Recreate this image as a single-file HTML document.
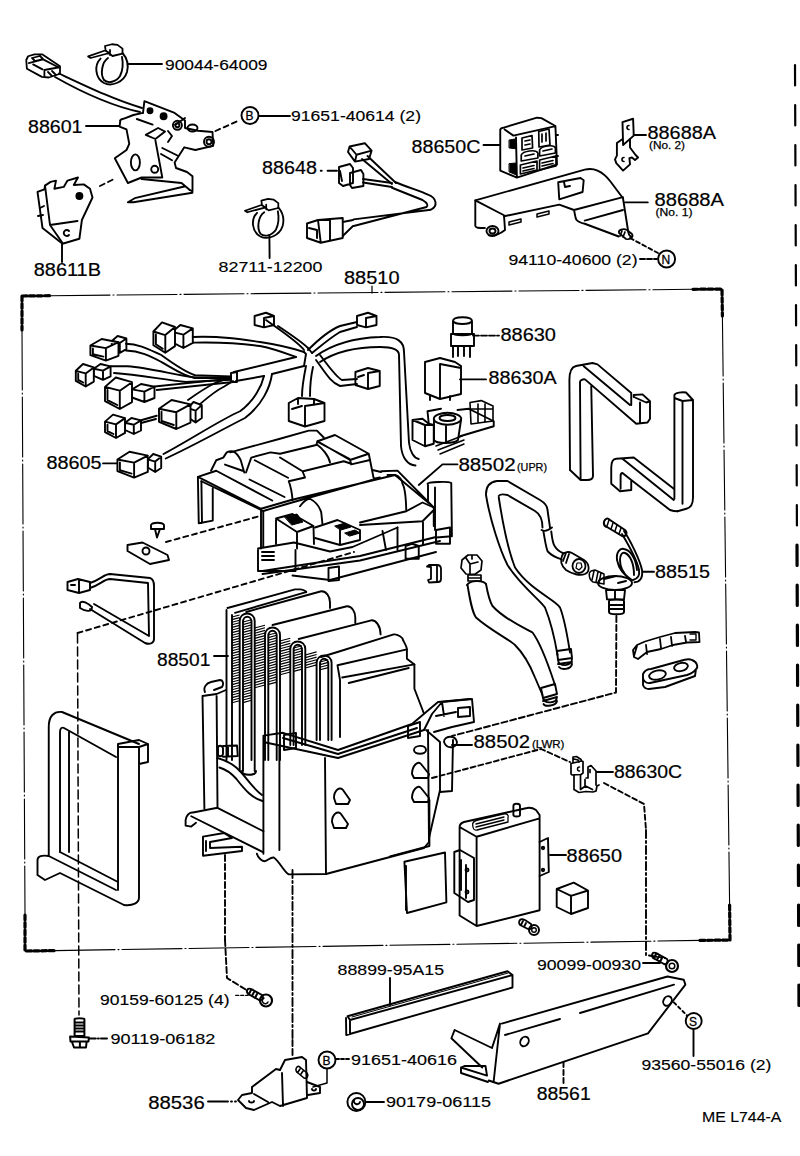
<!DOCTYPE html>
<html><head><meta charset="utf-8"><style>
html,body{margin:0;padding:0;background:#fff;width:800px;height:1156px;overflow:hidden}
svg{display:block}
text{font-family:"Liberation Sans",sans-serif;fill:#000;stroke:#000}
.b{font-size:17.5px;stroke-width:0.2px}
.n{font-size:15.5px;stroke-width:0.15px}
.s{font-size:10.5px;stroke-width:0.25px}
.l{fill:none;stroke:#000;stroke-width:1.9;stroke-linecap:round;stroke-linejoin:round}
</style></head><body>
<svg width="800" height="1156" viewBox="0 0 800 1156">
<text class="b" x="28" y="132.5" textLength="54.5" lengthAdjust="spacingAndGlyphs">88601</text>
<text class="b" x="411.5" y="152.5" textLength="69" lengthAdjust="spacingAndGlyphs">88650C</text>
<text class="b" x="647.5" y="139" textLength="68.5" lengthAdjust="spacingAndGlyphs">88688A</text>
<text class="b" x="262" y="174.3" textLength="55" lengthAdjust="spacingAndGlyphs">88648</text>
<text class="b" x="654.5" y="206" textLength="69.5" lengthAdjust="spacingAndGlyphs">88688A</text>
<text class="b" x="33.75" y="276" textLength="67.25" lengthAdjust="spacingAndGlyphs">88611B</text>
<text class="b" x="344" y="283.5" textLength="55.5" lengthAdjust="spacingAndGlyphs">88510</text>
<text class="b" x="500.4" y="341" textLength="55.6" lengthAdjust="spacingAndGlyphs">88630</text>
<text class="b" x="488.6" y="384" textLength="68" lengthAdjust="spacingAndGlyphs">88630A</text>
<text class="b" x="46.4" y="469" textLength="55.2" lengthAdjust="spacingAndGlyphs">88605</text>
<text class="b" x="458.4" y="471.4" textLength="57.2" lengthAdjust="spacingAndGlyphs">88502</text>
<text class="b" x="655" y="578" textLength="55" lengthAdjust="spacingAndGlyphs">88515</text>
<text class="b" x="157" y="665.6" textLength="53.4" lengthAdjust="spacingAndGlyphs">88501</text>
<text class="b" x="473.6" y="748" textLength="56.4" lengthAdjust="spacingAndGlyphs">88502</text>
<text class="b" x="614" y="778.4" textLength="68" lengthAdjust="spacingAndGlyphs">88630C</text>
<text class="b" x="566.6" y="861.5" textLength="55.4" lengthAdjust="spacingAndGlyphs">88650</text>
<text class="b" x="148.2" y="1109.2" textLength="56.5" lengthAdjust="spacingAndGlyphs">88536</text>
<text class="b" x="536.7" y="1099.6" textLength="54" lengthAdjust="spacingAndGlyphs">88561</text>
<text class="n" x="165" y="70" textLength="102.5" lengthAdjust="spacingAndGlyphs">90044-64009</text>
<text class="n" x="291" y="120.5" textLength="130" lengthAdjust="spacingAndGlyphs">91651-40614 (2)</text>
<text class="n" x="218.6" y="271.5" textLength="103.8" lengthAdjust="spacingAndGlyphs">82711-12200</text>
<text class="n" x="508.5" y="265" textLength="129" lengthAdjust="spacingAndGlyphs">94110-40600 (2)</text>
<text class="n" x="337.6" y="975" textLength="106.4" lengthAdjust="spacingAndGlyphs">88899-95A15</text>
<text class="n" x="537" y="970" textLength="104" lengthAdjust="spacingAndGlyphs">90099-00930</text>
<text class="n" x="100" y="1004.5" textLength="129.5" lengthAdjust="spacingAndGlyphs">90159-60125 (4)</text>
<text class="n" x="110.4" y="1044.4" textLength="105" lengthAdjust="spacingAndGlyphs">90119-06182</text>
<text class="n" x="351" y="1065" textLength="106" lengthAdjust="spacingAndGlyphs">91651-40616</text>
<text class="n" x="386" y="1107" textLength="105" lengthAdjust="spacingAndGlyphs">90179-06115</text>
<text class="n" x="641.4" y="1069.9" textLength="130" lengthAdjust="spacingAndGlyphs">93560-55016 (2)</text>
<text class="n" x="702" y="1122" textLength="79.4" lengthAdjust="spacingAndGlyphs">ME L744-A</text>
<text class="s" x="649" y="148.5" textLength="36" lengthAdjust="spacingAndGlyphs">(No. 2)</text>
<text class="s" x="655.5" y="215.5" textLength="37" lengthAdjust="spacingAndGlyphs">(No. 1)</text>
<text class="s" x="517" y="471.4" textLength="30" lengthAdjust="spacingAndGlyphs">(UPR)</text>
<text class="s" x="532" y="747.6" textLength="32.4" lengthAdjust="spacingAndGlyphs">(LWR)</text>
<g class="l" stroke-linecap="butt">
<path d="M50,295.7 L693,289.3 M22,330 L25,915 M55,950.6 L700,940.4 M722.4,316 L729.6,905" stroke-width="1.1" stroke-dasharray="60,3,1,3"/>
<path d="M22,296 L50,295.7 M22,296 L22,330 M25,915 L25,951 L55,950.6 M700,940.4 L730,940 L729.6,905 M693,289.3 L722,289 L722.4,316" stroke-width="3.2" stroke-dasharray="5,2.5"/>
<path d="M795,65 L797,545" stroke-width="2.2" stroke-dasharray="20.5,19.5"/>
<path d="M797,545 L799,1006" stroke-width="3.2" stroke-dasharray="20.5,19.5"/>
<path d="M372,286 L372,293" stroke-width="1.2"/>
</g>
<g class="l">
<!-- connector 88601 wire -->
<path d="M26.25,60 L28.1,56.25 L34.4,54.4 L42.5,54.4 L60,66.25 L60,73.75 L48.75,77.5 L41.9,76.9 L26.9,68.75 Z M28.75,63.1 L43.1,59.4 L58.75,67.5 M33.1,64.4 L42.5,69.4 M44.4,70 L44.4,76 M44.4,70 L58,67.5 M48,72 l4,4 M52,71 l4,4 M32,58 l8,-2 l3,3 l-8,2 Z" stroke-width="1.8"/>
<path d="M59,73.5 C90,88 115,100 142,108 M55,77 C85,94 112,106 140,112"/>
<!-- clamp 90044 -->
<path d="M100.6,58.6 C94,65 95,78 104,83 C112,87 124,82 127,72 C129,64 126,57 122.5,53"/>
<path d="M108,58 C102,62 100,74 104,80 C108,84 116,82 120,76 C123,70 123,62 122,57"/>
<path d="M88.1,56.4 L105,50.5 L109.4,53 L90.6,58 Z M105,46 L111.9,44.25 L117.5,44.9 L122.5,48.6 L122.5,53.6 L112.5,56 L105.6,50.5 Z M110,50 l0,5" stroke-width="1.8"/>
<path d="M128.5,64 L162,64"/>
<!-- 88601 bracket -->
<path d="M120.3,120.4 C121,119 122,119 124,118.6 L133.4,115 L143,112.9"/>
<path d="M120.3,120.4 L119.6,126.6 L126.5,129.4 L129.25,143.8 L126.5,150 L114.8,158.25 L127.9,183 L141.6,177.5 L162.3,177.5 L155.4,140.4"/>
<path d="M144.4,101.2 L143,112.9 M144.4,101.2 L174.6,112.9 L185,120.4 L185,128 L198,130.75 L212.5,132 L213.2,145.9 L195.3,150 L184.3,147.3 L174.6,162.4 L176,168 L187,172 L192.5,176.2 L192.5,191.3 L189.8,190"/>
<path d="M127.9,202.3 L134.75,198.2 L184.3,186.5 M133.4,202.3 L192.5,192.7 M127.9,202.3 L133.4,202.3 M141.6,179 L181.5,183 L189.8,190"/>
<path d="M145.75,134.9 L158.1,128 L165,131.5 L155.4,139 Z"/>
<ellipse cx="135.4" cy="162.4" rx="4.5" ry="8"/>
<circle cx="154.7" cy="169.3" r="3.5"/>
<circle cx="150" cy="110.8" r="2.5" fill="#000"/><circle cx="163.6" cy="116.3" r="3" fill="#000"/>
<path d="M136.8,119 L152.6,124.6 M162.3,148 L177.4,155.5 M161,154 L172,160.3 M175,125 L185,118"/>
<circle cx="177.4" cy="125.3" r="4.5"/><circle cx="177.4" cy="125.3" r="2"/>
<ellipse cx="192.5" cy="128" rx="5" ry="3.5"/>
<circle cx="209" cy="141.8" r="5"/><circle cx="209" cy="141.8" r="2.5"/>
<path d="M168,131 L172,136 L168,142"/>
<path d="M86,126 L119,126"/>
<path d="M215.5,131 L240,120" stroke-dasharray="5,4"/>
<path d="M100,186 L116,178" stroke-dasharray="5,4"/>
<!-- 88611B -->
<path d="M37.5,191.9 L44.4,189.4 L45,185.6 L50.6,181.9 L56,180.6 L54.4,188.75 L63.75,186.9 L67.5,180.6 L78,177.5 L73.75,185 L83.75,184.4 L90,188.75 L92.5,197.5 L81.9,220 L79.4,238.75 L62.5,243.75 L42.5,228 Z"/>
<path d="M45,185.6 L50,225 L77.5,221 M50,225 L62.5,243"/>
<path d="M40,208 l4,-2 M38,216 l5,-1"/>
<circle cx="79.4" cy="196" r="3" fill="#000"/>
<path d="M69,231 a3,3 0 1 0 0,4"/>
<path d="M62,244 L62,262"/>
<!-- B circle -->
<circle cx="250" cy="115.5" r="8.5"/>
<path d="M259,116 L290,116"/>
</g>
<text x="245.5" y="120" style="font-family:'Liberation Sans';font-size:12px;stroke-width:0.3px">B</text>
<g class="l">
<!-- 88648 harness -->
<path d="M349.6,146.5 L364.8,143.2 L371.6,150.6 L356.5,154.75 Z M349.6,146.5 L348,152 L355,161.6 L369,159 L371.6,150.6 M356.5,154.75 L355,161.6"/>
<path d="M367.5,156 L396,183 M362,159 L392,184"/>
<path d="M339,167 L350,164 L353,168 L353,183 L343,186 L339,183 Z M350,173 L361,170 L363.4,174 L363.4,186 L352,188 L350,185 Z M340,171 l2,10"/>
<path d="M363,179 L392,183 M363,182.5 L392,187"/>
<path d="M395,182 C410,188 420,191 428,194.6 C437,198 438,206 430.8,209.75 L353.75,219.4 M392,187.75 C405,193 415,197 422.5,200 C428,203 428,206 426.6,207 L353.75,226"/>
<path d="M307,223.5 L318,220 L342.75,218 L342.75,238 L320.75,242.75 L307,238 Z M318,220 L320.75,242.75 M330,219 l0,21 M309,228 l8,2 l0,8"/>
<path d="M342.75,222 L353,220 M342.75,236 L353,226"/>
<path d="M320.75,170.7 l1,0 M327.6,170.7 L337,170.7"/>
<!-- clamp 82711 -->
<g transform="translate(159.5,156) scale(0.97)">
<path d="M100.6,58.6 C94,65 95,78 104,83 C112,87 124,82 127,72 C129,64 126,57 122.5,53"/>
<path d="M108,58 C102,62 100,74 104,80 C108,84 116,82 120,76 C123,70 123,62 122,57"/>
<path d="M88.1,56.4 L105,50.5 L109.4,53 L90.6,58 Z M105,46 L111.9,44.25 L117.5,44.9 L122.5,48.6 L122.5,53.6 L112.5,56 L105.6,50.5 Z M110,50 l0,5" stroke-width="1.8"/>
</g>
<path d="M269.4,235 L269.6,258"/>
<!-- 88650C -->
<path d="M500.25,130 C500.25,129 501,128.2 503,127.8 L537,117.7 L541.4,118.1 L555.4,126 L557,164.5 L516.9,177.6 L500.25,170.6 Z M504.6,129.5 L513.4,135.6 L554.5,126.4 M516,137.4 L516.9,177.6"/>
<path d="M522,138 L532,135.5 L532.6,148 L522,150 Z M525,141 l5,-1 M525,145 l5,-1" stroke-width="1.7"/>
<path d="M538.75,131.5 L549,129 L550,145 L539,147 Z M542,134 l0,8 M546,133 l0,8" stroke-width="1.7"/>
<path d="M521.25,155 C523,151 536,149 537.9,153 L537.9,158 L521.25,161 Z M525,156 l9,-2" stroke-width="1.7"/>
<path d="M539.6,150 C541,146 554,144 555.4,148 L555.4,153 L539.6,156 Z M543,151 l9,-2" stroke-width="1.7"/>
<path d="M520.4,165 L537,161 L537,170 L520.4,174 Z M523,168 l11,-2.5 M523,171 l11,-2.5" stroke-width="1.7"/>
<path d="M539.6,160 L556,156 L556,166 L539.6,170 Z M542,163 l11,-2.5 M542,166 l11,-2.5" stroke-width="1.7"/>
<path d="M509.4,140 L515,139 L516,148.75 L509.4,148 Z M509.4,163.6 L516,163 L516.4,175 L509.4,172 Z" fill="#000" stroke-width="1"/>
<path d="M556,135 l2,0 M556,156 l2,0"/>
<path d="M483.5,145 L499.25,145"/>
<!-- 88688A No2 -->
<path d="M622.5,122.2 L633.1,118.75 L633.75,135.6 L623.1,145 Z"/>
<path d="M621.9,139.4 L616.9,143.1 L616.9,155.6 L615,159.4 L616.25,163.1 L623.1,170.6 L630,164.4 L629.4,158.1 L631.9,157.5 L635,160 L638.1,157.5 L635.6,155 L630,147.5 L630,139.4"/>
<path d="M629,125.5 a2,2 0 1 0 0,4 M624,157.5 a2,2 0 1 0 0,4" stroke-width="1.6"/>
<path d="M633.75,135 L646,135"/>
<!-- 88688A No1 -->
<path d="M475.3,200.4 L584.75,169.6 C590,168.5 594,169 597.5,170.6 C603,173 607,177 610.25,181.25 L623,198.25 L628.3,232.25 C629,235 630,236.5 631.5,236.5"/>
<path d="M475.3,200.4 L475.3,226 C476,228 478,228 484.9,228 M475.3,200.4 L504,215.25 L505,230 C500,234 494,236 489,235.4"/>
<path d="M504,216.3 L559.25,204.6 L574,210 L623,197.2 M574,210 C575,214 575,217 576.25,219.5 C578,222 581,223 584.75,223.75 L618.75,236.5 M584.75,220.6 L623,210"/>
<path d="M558.2,182.3 L580.5,178 L583.7,180.2 L582.6,192 L559.25,199.3 Z M564,182 l1,5 l5,-1"/>
<path d="M509,222 l12,-3 l0,3 l-12,3 Z M537,214 l12,-3 l0,3 l-12,3 Z" stroke-width="1.5"/>
<ellipse cx="492.5" cy="231" rx="6" ry="5"/><ellipse cx="492.5" cy="231" rx="3" ry="2.5"/>
<path d="M619,233 C618,230 623,228 627,230 L632,234 C634,237 630,240 626,239 Z M622,231 l-2,5 M625,232 l-2,5" stroke-width="1.7"/>
<path d="M625,202.4 L647.75,202.4"/>
<path d="M630,238 L658,253" stroke-dasharray="4,3"/>
<path d="M640,259 L657,259" stroke-dasharray="5,2"/>
<circle cx="666.6" cy="259" r="8.5"/>
<circle cx="693.7" cy="1021" r="8"/>
<circle cx="327" cy="1060" r="8.5"/>
</g>
<text x="661.5" y="263.5" style="font-family:'Liberation Sans';font-size:12px;stroke-width:0.3px">N</text>
<text x="689" y="1025.5" style="font-family:'Liberation Sans';font-size:12px;stroke-width:0.3px">S</text>
<text x="322.5" y="1064.5" style="font-family:'Liberation Sans';font-size:12px;stroke-width:0.3px">B</text>
<g class="l">
<!-- 88605 harness connectors -->
<path d="M111.8,341.0 L117.6,336.0 L126.4,338.5 L126.4,349.1 L119.8,352.8 L111.8,348.6 Z M111.8,341.0 L119.8,343.0 L126.4,338.5 M119.8,343.0 L119.8,352.8"/>
<path fill="#fff" d="M90.4,345.5 L101.6,339.0 L118.5,342.2 L118.5,355.8 L105.9,360.6 L90.4,355.2 Z M90.4,345.5 L105.9,348.1 L118.5,342.2 M105.9,348.1 L105.9,360.6 M92.9,348.5 L92.9,354.2 L103.4,356.6"/>
<path d="M172.0,331.9 L180.3,325.0 L192.8,328.4 L192.8,342.9 L183.4,348.0 L172.0,342.2 Z M172.0,331.9 L183.4,334.7 L192.8,328.4 M183.4,334.7 L183.4,348.0"/>
<path fill="#fff" d="M153.4,331.5 L162.0,322.4 L175.0,327.0 L175.0,346.1 L165.3,352.8 L153.4,345.2 Z M153.4,331.5 L165.3,335.1 L175.0,327.0 M165.3,335.1 L165.3,352.8 M155.9,334.5 L155.9,344.2 L162.8,348.8"/>
<path d="M93.8,368.7 L100.5,364.0 L110.6,366.4 L110.6,376.3 L103.0,379.8 L93.8,375.8 Z M93.8,368.7 L103.0,370.6 L110.6,366.4 M103.0,370.6 L103.0,379.8"/>
<path fill="#fff" d="M75.8,370.8 L83.0,364.0 L93.8,367.4 L93.8,381.6 L85.7,386.5 L75.8,380.9 Z M75.8,370.8 L85.7,373.4 L93.8,367.4 M85.7,373.4 L85.7,386.5 M78.2,373.8 L78.2,379.9 L83.2,382.5"/>
<path d="M132.0,389.4 L141.0,384.0 L154.5,386.7 L154.5,398.0 L144.4,402.0 L132.0,397.5 Z M132.0,389.4 L144.4,391.6 L154.5,386.7 M144.4,391.6 L144.4,402.0"/>
<path fill="#fff" d="M105.0,386.9 L115.8,377.5 L132.0,382.2 L132.0,402.1 L119.8,409.0 L105.0,401.1 Z M105.0,386.9 L119.8,390.7 L132.0,382.2 M119.8,390.7 L119.8,409.0 M107.5,389.9 L107.5,400.1 L117.3,405.0"/>
<path d="M125.0,422.8 L131.4,418.0 L141.0,420.4 L141.0,430.5 L133.8,434.0 L125.0,430.0 Z M125.0,422.8 L133.8,424.7 L141.0,420.4 M133.8,424.7 L133.8,434.0"/>
<path fill="#fff" d="M105.0,421.6 L113.0,414.6 L125.0,418.1 L125.0,432.9 L116.0,438.0 L105.0,432.1 Z M105.0,421.6 L116.0,424.4 L125.0,418.1 M116.0,424.4 L116.0,438.0 M107.5,424.6 L107.5,431.1 L113.5,434.0"/>
<path d="M188.0,408.1 L193.5,402.0 L201.8,405.1 L201.8,418.0 L195.6,422.5 L188.0,417.4 Z M188.0,408.1 L195.6,410.6 L201.8,405.1 M195.6,410.6 L195.6,422.5"/>
<path fill="#fff" d="M159.0,408.7 L171.6,400.0 L190.5,404.4 L190.5,422.6 L176.3,429.0 L159.0,421.8 Z M159.0,408.7 L176.3,412.2 L190.5,404.4 M176.3,412.2 L176.3,429.0 M161.5,411.7 L161.5,420.8 L173.8,425.0"/>
<path d="M147.8,459.4 L153.2,454.0 L161.2,456.7 L161.2,468.0 L155.2,472.0 L147.8,467.5 Z M147.8,459.4 L155.2,461.6 L161.2,456.7 M155.2,461.6 L155.2,472.0"/>
<path fill="#fff" d="M117.4,459.5 L129.5,451.8 L147.8,455.6 L147.8,471.9 L134.1,477.6 L117.4,471.1 Z M117.4,459.5 L134.1,462.6 L147.8,455.6 M134.1,462.6 L134.1,477.6 M119.9,462.5 L119.9,470.1 L131.6,473.6"/>
<!-- wires -->
<path d="M126,343.75 C140,344 150,350 161.25,355 C175,365 185,372 195,375.25 L231,376.4 M126,350.5 C140,351 150,356 161,361.75 C175,370 185,376 195,378 L231,378"/>
<path d="M192.75,337 C220,336 240,339 260,342 C280,345 295,349 304,352 M192.75,342.6 C220,342 240,343 260,346 C275,349 285,353 296,357"/>
<path d="M110.6,366.25 L127.5,366.25 C150,368 175,375 195,377.5 L231,377.5 M114,373 C140,375 165,380 186,382 L231,379.75"/>
<path d="M154.5,386.5 L231,378.6 M156.75,390 L233.25,382"/>
<path d="M188,400 C195,395 205,388 215,383 L231,377 M199.5,404.5 C207,398 215,391 224.25,386.5 L233,381"/>
<path d="M141,420.25 L156.75,415.75 M141,423 L156,419"/>
<path d="M163.5,454 C190,440 220,420 240,411.25 C255,400 262,385 264,376 M165.75,458.5 C195,445 225,428 245,418 C262,405 270,388 272,374"/>
<path d="M231,373 L237,372 L237,382 L231,382 Z"/>
<path d="M234,372 L296,357 M236,381 L264,376 M272,374 L304,366"/>
<!-- junction and branches -->
<path d="M266,320 C280,330 298,342 304,350 M278,326 C290,334 302,342 308,348"/>
<path d="M308,350 C318,340 330,330 340,326 L357,322 M312,353 C322,345 330,338 340,332 L357,327"/>
<path d="M304,352 L306,354 L304,366 M308,348 L312,353"/>
<path d="M306,366 C304,376 302,386 302,396 M313,367 C311,376 310,386 310,396"/>
<path d="M316,360 C325,372 330,382 340,386 L357,384 M320,355 C330,368 336,377 342,380 L357,379"/>
<path d="M254.6,316 L266,312.75 L274,316 L274,325 L264,327.4 L254.6,325 Z M264,318 L264,327.4 M264,318 L274,316"/>
<path d="M357,316 L368,312.75 L376.5,316 L376.5,325 L366,327.4 L357,325 Z M366,318 L366,327.4 M366,318 L376.5,316"/>
<path d="M316,356 C330,346 350,338 380,337 C398,336 404,342 404,351.75 L409,442.75 C410,452 414,458 418.75,459 M320,362 C335,352 355,347 380,347 C394,347 399,350 399,355 L401,446 C402,458 408,465 415.5,465.5"/>
<path d="M288.75,403 L298,398 L314,399 L324.5,403 L324.5,421 L305,426.5 L288.75,421 Z M305,406 L305,426.5 M305,406 L324.5,403 M292,409 l10,-3 M298,398 l0,6 M314,399 l0,6"/>
<path d="M355.4,372 L368,368 L379.75,371 L379.75,386 L368,389 L355.4,385 Z M368,373 L368,389 M368,373 L379.75,371 M358,377 l6,-2"/>
<!-- amplifier/resistor area -->
<path d="M427.5,411.25 L441,408.75 M457.5,410 L468.75,408.75 L493.75,421.25 L493.75,426.25 L460,436.25 M427.5,411.25 L428.75,423.75"/>
<path d="M412.5,420 L422.5,418.75 L428.75,423.75 L433.75,425 L433.75,443.75 L425,446.25 L412.5,440 Z M412.5,420 L425,425 L433.75,425 M425,425 L425,446.25"/>
<ellipse cx="447.5" cy="418.75" rx="13.75" ry="6"/>
<ellipse cx="447.5" cy="418" rx="8" ry="3"/>
<path d="M434,420 L434,440 C436,444 454,444 458,440 L461,420 M446,426 L446,443"/>
<path d="M470,402.5 L481.25,400.6 L493,406 L493,421 L471,424 Z M478,404 L478,423 M485,404 L485,422 M470,409 L493,409" stroke-width="1.6"/>
<path d="M436,446 L462,436 M438,450 L464,440 M440,454 L464,444" stroke-width="1.5"/>
<!-- relay 88630A -->
<path d="M425,362 L440,358 L455,362 L461,366 L461,394 L440,399 L425,393 Z M440,364 L440,399 M440,364 L461,368 M430,396 l0,4 M450,396 l0,4"/>
<!-- switch 88630 -->
<path d="M453,321 C453,316 472,316 472,321 L472,333 C472,336 453,336 453,333 Z M453,321 C455,325 470,325 472,321"/>
<path d="M451,334 L474,334 L474,346 L451,346 Z M453,346 L453,357 M470,346 L470,357 M458,346 l0,10 M464,346 l0,10"/>
<path d="M473,335.6 L499,335.6" stroke-dasharray="6,2"/>
<path d="M460,379.4 L486,379.4"/>
<path d="M103,463.4 L117,463.4"/>
</g>
<g class="l">
<!-- upper case 88502 -->
<path d="M197.9,476.9 L198.75,523.25 L212.75,520.6 L212.75,488.25 M201.4,481.25 L202,523"/>
<path d="M197.9,476.9 L261,508.75 M201.4,481.25 L263.25,511 M197.9,476.9 L216.25,470.75 L272.25,500.5"/>
<path d="M211,470.75 L216.25,460.25 L223.25,457.6 L226.75,452.4 C232,450 236,451 240.75,460.25 L244.25,472.5 M225,464.6 L242.5,470.75"/>
<path d="M230.25,452.4 L280,438.75 L308.75,430.6 L316.9,430.6 L323.75,437.5"/>
<path d="M246,472.5 L251.25,457.6 L270.5,452.4 L280,453.75 L316.25,445 L317.5,441.25 M254.75,460.25 L288,477.75 M249.5,479.5 L284.5,497 M280,457.5 L302.5,471.25 L305,477.5 L288.75,481.25 C291,487 292,493 292.5,500"/>
<path d="M317.5,445 C322,448 328.75,456 330,462.5"/>
<path d="M317.5,441.25 L335,435 L368.75,453.75 L350,460 Z M318.75,442.5 L349.4,458.75 M350,460 L351.25,464.4 L370,460 L368.75,453.75"/>
<path d="M303.1,471.25 L343.75,461.25 L351.25,463.75 M370,460 L373.75,478.75 L380,477.5 M372.5,470 L381,472"/>
<path d="M381.25,471.25 L397.5,470.6 L433.75,507.5 M387.5,475 L395,475 L430,504"/>
<path d="M261,508.75 L291.25,500 L395,475 C399,476 402.5,480 402.5,483.75 C405,488 406,500 406.25,510 M263.25,511 L293.75,502 L372,480"/>
<path d="M300,506.25 C303,502 306,499 310,498.75 C316,502 320,508 321.25,512.5 L322.5,524.5"/>
<path d="M360,522.5 L406.25,511.25 L422.5,502.5 L433.75,507.5 L433.75,526 M360,525 L422.5,521.25 L433.75,510"/>
<path d="M261,508.75 L261,548.5 M263.25,511 L263.25,547"/>
<path d="M276,518.5 L292.5,514 L313.5,526 L297,532 Z M276,520 L276,544 M297,532 L297,548.5 M313.5,527.5 L314,544"/>
<path d="M285,517 L297,514 L303,522 L292,525 Z" fill="#000" stroke-width="1"/>
<path d="M315,527.5 L337.5,520 L360,530 L360,540 L340,545 L315,538 M340,530 l0,15"/>
<path d="M335,526 l10,-3 l6,4 l-10,3 Z M345,533 l10,-3 l5,3 l-10,3 Z" fill="#000" stroke-width="1"/>
<path d="M258,548.5 L294,542.5 L330,551.5 L352.5,547 L397.5,527.5 M258,550 L258,571 L295.5,571 L295.5,550 M262,552 l12,0 M262,556 l12,0 M262,560 l12,0"/>
<path d="M262.5,571 L360,556 L436,537 M262.5,574 L360,560.5 L440,541 M292.5,575.5 L330,580 L436,552"/>
<path d="M328.5,568 L339,566.5 L339,580 L328.5,581 Z M397.5,527.5 L397.5,550 M423,522.5 L423,545 M382.5,531 L386,550"/>
<path d="M427.5,483.75 C428,482 448,481 451.25,483 L451.9,536.25 L436.25,537.5 M428,485 L428,502.5 M435,487.5 L435,530"/>
<path d="M436,530 L450,527.5 L450,543.75 L436,543.75 Z M405.6,546 L412,543.75 L418.75,546 L418.75,558.75 L405.6,558.75 Z"/>
<path d="M418.75,485 L442.5,464.4 L457.5,464.4"/>
<path d="M427,566.5 L429,565 L437,565 C440,565 441,567 441,569 L441,579 C441,581 440,582 438,582 L429,582.5 L428,580 L431,579 L431,567 Z M437,566 L437,581" stroke-width="1.8"/>



<!-- small parts left -->
<path d="M151,525 C152,522 163,522 164,525 L164,529 L151,529 Z M155,529 L157,537.5 L160,529"/>
<path d="M127.5,545 L142.5,542.5 L167.5,555 L169,560 L150,564 L127.5,551 Z"/>
<circle cx="146" cy="551" r="3.5"/>
<path d="M166,542 L260,516" stroke-dasharray="5,4"/>
<path d="M67.5,582 L78,579 L90,582 L90,590 L79,593 L67.5,590 Z M79,581 L79,593 M71,585 l4,0"/>
<path d="M90,583 C100,580 104,574 110,574 L150,578 C153,579 154,582 154,586 L154,639 C154,643 150,645 145,643 L90,609 M90,588 C100,585 104,579 110,579 L148,583 L149,636 L94,604"/>
<path d="M80,603 C82,600 88,603 92,607 C92,612 86,612 80,608 Z"/>
<path d="M77.5,633 L354,552" stroke-dasharray="5,4"/>
<path d="M77.5,634 L79,1015" stroke-width="1.5" stroke-dasharray="9,4"/>
</g>
<g class="l">
<!-- evaporator core -->
<path d="M226.5,610 L226.5,760 M227.5,608 L295,589.4 L300.6,589.4 C305,590 307,592 306,592.2 M235,612.8 L306,592.2 M232,615 L232,760"/>
<!-- hatching region -->
<path stroke-width="1.1" stroke-linecap="butt" d="M232.0,617.0 L239.5,615.0 M232.0,619.6 L239.5,617.6 M232.0,622.2 L239.5,620.2 M232.0,624.8 L239.5,622.8 M232.0,627.4 L239.5,625.4 M232.0,630.0 L239.5,628.0 M232.0,632.6 L239.5,630.6 M232.0,635.2 L239.5,633.2 M232.0,637.8 L239.5,635.8 M232.0,640.4 L239.5,638.4 M232.0,643.0 L239.5,641.0 M232.0,645.6 L239.5,643.6 M232.0,648.2 L239.5,646.2 M232.0,650.8 L239.5,648.8 M232.0,653.4 L239.5,651.4 M232.0,656.0 L239.5,654.0 M232.0,658.6 L239.5,656.6 M232.0,661.2 L239.5,659.2 M232.0,663.8 L239.5,661.8 M232.0,666.4 L239.5,664.4 M232.0,669.0 L239.5,667.0 M232.0,671.6 L239.5,669.6 M232.0,674.2 L239.5,672.2 M232.0,676.8 L239.5,674.8 M232.0,679.4 L239.5,677.4 M232.0,682.0 L239.5,680.0 M232.0,684.6 L239.5,682.6 M232.0,687.2 L239.5,685.2 M232.0,689.8 L239.5,687.8 M232.0,692.4 L239.5,690.4 M232.0,695.0 L239.5,693.0 M232.0,697.6 L239.5,695.6 M232.0,700.2 L239.5,698.2 M232.0,702.8 L239.5,700.8 M243.0,622.0 L251.5,619.7 M243.0,624.6 L251.5,622.3 M243.0,627.2 L251.5,624.9 M243.0,629.8 L251.5,627.5 M243.0,632.4 L251.5,630.1 M243.0,635.0 L251.5,632.7 M243.0,637.6 L251.5,635.3 M243.0,640.2 L251.5,637.9 M243.0,642.8 L251.5,640.5 M243.0,645.4 L251.5,643.1 M243.0,648.0 L251.5,645.7 M243.0,650.6 L251.5,648.3 M243.0,653.2 L251.5,650.9 M243.0,655.8 L251.5,653.5 M243.0,658.4 L251.5,656.1 M243.0,661.0 L251.5,658.7 M243.0,663.6 L251.5,661.3 M243.0,666.2 L251.5,663.9 M243.0,668.8 L251.5,666.5 M243.0,671.4 L251.5,669.1 M243.0,674.0 L251.5,671.7 M243.0,676.6 L251.5,674.3 M243.0,679.2 L251.5,676.9 M243.0,681.8 L251.5,679.5 M243.0,684.4 L251.5,682.1 M243.0,687.0 L251.5,684.7 M243.0,689.6 L251.5,687.3 M243.0,692.2 L251.5,689.9 M243.0,694.8 L251.5,692.5 M243.0,697.4 L251.5,695.1 M243.0,700.0 L251.5,697.7 M243.0,702.6 L251.5,700.3 M254.7,628.0 L265.0,625.2 M254.7,630.6 L265.0,627.8 M254.7,633.2 L265.0,630.4 M254.7,635.8 L265.0,633.0 M254.7,638.4 L265.0,635.6 M254.7,641.0 L265.0,638.2 M254.7,643.6 L265.0,640.8 M254.7,646.2 L265.0,643.4 M254.7,648.8 L265.0,646.0 M254.7,651.4 L265.0,648.6 M254.7,654.0 L265.0,651.2 M254.7,656.6 L265.0,653.8 M254.7,659.2 L265.0,656.4 M254.7,661.8 L265.0,659.0 M254.7,664.4 L265.0,661.6 M254.7,667.0 L265.0,664.2 M254.7,669.6 L265.0,666.8 M254.7,672.2 L265.0,669.4 M254.7,674.8 L265.0,672.0 M254.7,677.4 L265.0,674.6 M254.7,680.0 L265.0,677.2 M254.7,682.6 L265.0,679.8 M254.7,685.2 L265.0,682.4 M254.7,687.8 L265.0,685.0 M268.3,635.0 L276.7,632.7 M268.3,637.6 L276.7,635.3 M268.3,640.2 L276.7,637.9 M268.3,642.8 L276.7,640.5 M268.3,645.4 L276.7,643.1 M268.3,648.0 L276.7,645.7 M268.3,650.6 L276.7,648.3 M268.3,653.2 L276.7,650.9 M268.3,655.8 L276.7,653.5 M268.3,658.4 L276.7,656.1 M268.3,661.0 L276.7,658.7 M268.3,663.6 L276.7,661.3 M268.3,666.2 L276.7,663.9 M268.3,668.8 L276.7,666.5 M268.3,671.4 L276.7,669.1 M268.3,674.0 L276.7,671.7 M268.3,676.6 L276.7,674.3 M268.3,679.2 L276.7,676.9 M268.3,681.8 L276.7,679.5 M268.3,684.4 L276.7,682.1 M280.0,641.0 L290.3,638.2 M280.0,643.6 L290.3,640.8 M280.0,646.2 L290.3,643.4 M280.0,648.8 L290.3,646.0 M280.0,651.4 L290.3,648.6 M280.0,654.0 L290.3,651.2 M280.0,656.6 L290.3,653.8 M280.0,659.2 L290.3,656.4 M280.0,661.8 L290.3,659.0 M280.0,664.4 L290.3,661.6 M280.0,667.0 L290.3,664.2 M280.0,669.6 L290.3,666.8 M280.0,672.2 L290.3,669.4 M280.0,674.8 L290.3,672.0 M293.6,648.0 L302.0,645.7 M293.6,650.6 L302.0,648.3 M293.6,653.2 L302.0,650.9 M293.6,655.8 L302.0,653.5 M293.6,658.4 L302.0,656.1 M293.6,661.0 L302.0,658.7 M293.6,663.6 L302.0,661.3 M293.6,666.2 L302.0,663.9 M293.6,668.8 L302.0,666.5 M293.6,671.4 L302.0,669.1 M305.3,655.0 L316.6,651.9 M305.3,657.6 L316.6,654.5 M305.3,660.2 L316.6,657.1 M305.3,662.8 L316.6,659.7 M305.3,665.4 L316.6,662.3 M305.3,668.0 L316.6,664.9 M320.0,662.0 L328.3,659.8 M320.0,664.6 L328.3,662.4 M320.0,667.2 L328.3,665.0 M320.0,669.8 L328.3,667.6"/>
<!-- tubes U -->
<path d="M239.7,771 L239.7,621 C239.7,611 254.7,611 254.7,621 L254.7,771 M243,771 L243,622 C243,615 251.5,615 251.5,622 L251.5,760"/>
<path d="M265,760 L265,635 C265,625 280,625 280,635 L280,760 M268.3,760 L268.3,636 C268.3,629 276.7,629 276.7,636 L276.7,760"/>
<path d="M290.3,745 L290.3,649 C290.3,639 305.3,639 305.3,649 L305.3,745 M293.6,745 L293.6,650 C293.6,643 302,643 302,650 L302,745"/>
<path d="M316.6,740 L316.6,663 C316.6,653 331.6,653 331.6,663 L331.6,740 M320,740 L320,664 C320,657 328.3,657 328.3,664 L328.3,740"/>
<path d="M242,771 C242,776 256,776 256,771"/>
<!-- fin block tops -->
<path d="M246.25,612 L321.25,591.25 C326,591 330,596 330,602.5 L330,608"/>
<path d="M272.5,625 L346.9,606.25 C352,606 355.3,612 355.3,617.5 L355.3,623"/>
<path d="M298.75,639 L371.25,620.3 C376,620 380.6,626 380.6,634.4"/>
<path d="M321,657 L337.5,652 L393.75,634.4 C398,634 403,638 403,640 C405,644 406.9,647 406.9,649.4 L406.9,658.75 L414.4,664.4 L414.4,688.75 L423.75,713"/>
<path d="M337.5,665.3 L406.9,649.4 M342.2,677.5 L414.4,664.4 M348.75,683 L408.75,668 M337.5,665.3 L340,680 L340,737"/>
<!-- rear shell left -->
<path d="M202.5,696 L204.4,808.75 M216.6,696 L217.5,807 M202.5,696 L216.6,694 L226,690 M205,692 C203,688 206,683 211,682 L220,680 C223,680 224,684 222,687 L214,690"/>
<path d="M217.5,758 C225,760 232,764 236.25,767.5 C245,775 252,788 262,795 M219.4,767.5 C228,770 232,774 236.25,778.75 C245,790 252,798 262.5,801"/>
<path d="M218,748 C218,745 222,745 223,748 L223,754 C222,757 218,757 218,754 Z M223,746 L237,745.5 L237.75,756 L223,756.75 M228,746 l0,10"/>
<!-- case front -->
<path d="M263.4,736.6 L263.4,853.75 M279.4,747 L279.4,850 M263.4,735.6 L283,732.8 L338,750 L412,724 L438,702 L470,699 M263.4,742 L338,758 L424,730 M283,738 L338,754 L417,728"/>
<path d="M256.9,853.75 C258,858 262,861 264.4,861.25 C268,861 270,857 273.75,857.5 C280,862 284,872 288.75,874.4 L326,874 L424,848 L429,842 L428,730"/>
<path d="M325,758 L326,874"/>
<path d="M408,726 L420,722 L420,736 L408,738 Z M284,735 L296,733 L296,748 L284,750 Z"/>
<path d="M426,730 L440,742 L440,792 L452,791 L453,740 M440,790 L429,838"/>
<path d="M424,730 L432,714 L442,702 L472,699 L474,722 L452,727 L434,732 M458,708 L470,707 L470,716 L458,717 Z M436,716 L456,712 M442,702 L444,716"/>
<path d="M444,742 C444,736 455,734 457,742 C457,748 447,750 444,742 Z M452,745 L472,745"/>
<!-- tabs -->
<path d="M334,798 C334,790 340,786 343,790 L350,800 L348,804 L336,804 Z M332,822 C332,814 338,810 341,814 L348,824 L346,828 L334,828 Z"/>
<path d="M414,750 C414,745 426,744 426,750 C426,755 414,755 414,750 Z M412,774 C412,766 418,760 421,764 L429,774 L428,778 L414,778 Z M412,798 C412,790 418,784 421,788 L429,798 L428,802 L414,802 Z"/>
<!-- tray -->
<path d="M185.6,820 C186,815 190,812 193,812.5 L217.5,807.8 L263.4,831.25 M191.25,816.25 L262.5,851.9 M185.6,820 L185.6,825.6 L191.25,826.6 L196,822.8"/>
<path d="M203,836.6 L224,833 L232,838 L210,842 L210,848 L242,846.75 L242,851 L203,855.75 Z M206,841 l0,10"/>
<path d="M225,855 L225,940" stroke-dasharray="6,3"/>
<path d="M292.5,870 L292.5,1040" stroke-dasharray="8,3,2,3"/>
<path d="M432,778 L541,749 L570,762" stroke-dasharray="5,3"/>

<path d="M214,656 L228,656"/>
</g>
<g class="l">
<!-- heater core frame -->
<path d="M48.75,856 L48.75,727 C48.75,716 54,711 62,712 L139,744 M60,852 L60,732 C60,728 62,727 64,728 L116,757 M69,852 L69,731"/>
<path d="M118,744 L139,740 L148,744 L148,762 L139,764 M118,744 L118,747 L139,747 L148,744 M139,747 L139,897.5 C139,903 133,906 124,905 M118,747 L118,890"/>
<path d="M37.5,860 C37.5,856 42,855 48.75,856 L116,890 M37.5,860 L37.5,875 L45,880 L60,873 L124,905 M60,852 L118,882"/>
<!-- hoses -->
<path d="M486,494 C486,486 490,482 497,481 L507.5,481 L540,500 C545,503 547.5,507 547.5,510 L550,527.5 M498.75,496 C500,494 503,494 507.5,495 L535,511 C540,514 542.5,520 542.5,527.5"/>
<path d="M543.4,531.4 C545,540 546,548 547.75,551.5 C552,556 557,558 561.75,559.4 M551.25,531.4 C552,538 553,544 554.75,546.25 C557,550 560,552 563.5,553.25 M541.5,530 C545,532 549,530 552,527.6"/>
<path d="M562,556 C563,552 568,551 572,553 L584,560 C590,564 590,572 585,574 C580,576 572,574 566,570 C561,566 560,560 562,556 Z M566,553 l-3,8 M569,554 l-3,9" stroke-width="1.8"/>
<ellipse cx="579" cy="566" rx="6.5" ry="7" stroke-width="1.8"/><path d="M577,563 l4,0 l1,4 l-3,3 l-3,-2 Z" stroke-width="1.2"/>
<path d="M486,495 C490,520 500,550 507.5,565 C520,585 540,600 545,607.5 C550,620 555,640 557.5,655 M498.75,497.5 C503,525 508,550 515,567.5 C530,590 556,600 560,607.5 C565,620 568,640 570,652.5"/>
<path d="M557,651 L571,649 L572,658 L558,660 Z M558,660 C558,667 572,667 572,659 M558,664 l14,-2 M559,667 C561,670 571,670 572,664" stroke-width="1.9"/>
<path d="M467.5,585 C470,600 472,612 476,617.5 C490,630 510,640 515,645 C525,655 532,670 535,677.5 L542.5,695 M486,584 C488,595 490,602 492.5,606 C505,620 525,628 532.5,632.5 C542,645 550,670 555,685"/>
<path d="M467,585 C470,580 483,580 486,584"/>
<path d="M462,560 L468,555 L477,555 L482,561 L481,570 L475,574.25 L466,574 L461,568 Z M466,558 L470,564 L478,562 M470,564 L470,573 M472,555 l0,4" stroke-width="1.7"/>
<path d="M468,575 L481,575 L481,581 L468,581 Z M468,578 l13,0" stroke-width="1.7"/>
<path d="M541,688 L555,684 L557,694 L543,698 Z M543,698 C543,704 557,704 557,697 M543,701 l14,-4 M543.5,704 C545,707 556,706 557,701" stroke-width="1.9"/>

<path d="M616.4,616 L616,692.5 L452,736" stroke-dasharray="6,3"/>
<!-- N pipes -->
<path d="M570,470 L569.4,380 C569.4,372 571,367 576,366 L592.5,363 L597.5,364.4 L631.25,393 L631.25,405 M583.75,366.25 L630,405"/>
<path d="M633.75,395 L642.5,394.4 L650,401.25 L650,418.75 L647.5,422.5 L636.25,423.75 L585,379.4 C583,379 580,380 580,382 L580.6,480 M635,397.5 L646.25,402.5 L650,401.25 M640,402.5 L640,422.5 M591.25,386.25 L593,476 C593,479 590,480 587,480 L580.6,480 L570,470 M633.75,395 L633.75,397"/>
<path d="M674.4,395 C675,392.5 682,392 686,392.5 L693,400 L693,497.5 C693,505 690,508 686.25,508.75 L677.5,511.25 M674.4,395 L674.4,498.75 M682.5,401 L682.5,503.75 M674.4,398 L682.5,401 L693,400"/>
<path d="M611.25,467.5 C611.25,462 613,459 616.25,458.75 L633.75,457.5 L673.75,488.75 M622.5,458.75 L673.75,500 M611.25,467.5 L611.25,483.75 L620,491.25 L631.25,490 L631.25,480 L622.5,473 C621,473 620.6,474 620.6,476 L620.6,488.75 M631.25,480 L670,510 C673,511 675,511.25 677.5,511.25"/>
<!-- 88515 sensor -->
<path d="M606,519 C603,521 603,526 607,527 L622,536 C626,537 628,533 625,530 L610,520 C609,519 607,518 606,519 Z" stroke-width="2"/>
<path d="M609,520 l-2,6 M613,523 l-2,6 M617,525 l-2,6 M621,528 l-2,6" stroke-width="1.5"/>
<path d="M624,531 C630,540 640,560 642,570 C643,578 640,582 634.5,582.3 M622,534 C628,544 637,560 639,570 C640,576 637,579 633,580"/>
<path d="M632,580 C625,576 619,570 617,560 C616,552 620,548 624,549 C630,550 636,558 637,570 M629,578 C624,574 620,568 620,560 C620,555 622,552 625,553 C630,555 634,563 634,575"/>
<ellipse cx="615" cy="583" rx="17" ry="7"/>
<path d="M604,579 l12,-3 M618,583 l8,-2"/>
<path d="M591,571 C588,573 589,580 593,582 L604,584 L604,574 L595,570 Z M594,571 l-2,9 M598,572 l-2,10 M601,573 l-2,10" stroke-width="1.5"/>
<path d="M606,590 L625,590 L624,599.4 L607,599.4 Z M615,590 L615,599"/>
<path d="M609,601 C609,599 624,599 624,601 L624,612 C624,615 609,615 609,612 Z M609,605 l15,0 M609,609 l15,0" stroke-width="2"/>
<path d="M643,571.8 L654,571.8"/>
<!-- clip & grommet -->
<path d="M633,650 L637,645 L645,641.5 L660,637 L675,633 L695,632 L699,632.5 L699.5,642 L687,642.5 L673,645 L661,649 L647,652 L638,659 L634,657 Z M646,645 L647,654 M660,639 L661,648 M671,637 L672,646 M685,636 L686,642 M637,646 L634,656" stroke-width="1.8"/>
<path d="M690,634 L696,634 L696,640 L690,640" stroke-width="1.4"/>
<path d="M643,674 C645,670 648,669 651,669 L680,661 C686,659 690,659 692,660 C698,662 698,668 696,669 C694,672 690,674 687,675 L650,683 C646,684 643,680 643,678 Z M643,674 L643,685 C644,688 646,689 649,689 L665,687 L695,676 L696,669"/>
<ellipse cx="657.5" cy="675" rx="8.5" ry="4.5" transform="rotate(-12 657.5 675)"/>
<ellipse cx="681" cy="667" rx="7" ry="4" transform="rotate(-12 681 667)"/>
</g>
<g class="l">
<!-- ECU 88650 -->
<path d="M459.6,827 C459.6,824 461,823 464,822 L527,808 C531,807 533,808 536,810 L539.6,815 L539.6,910.25 L476.6,926 L459.6,915.5 Z M459.6,827 L476.6,836.75 L539.6,818.4 M476.6,836.75 L476.6,926"/>
<path d="M472.7,825 C472,822 474,821 478,820 L503,814 C507,813 509,815 508,818 L508,822 L477,830 C474,831 472.7,828 472.7,825 Z M476,824 l28,-7 M476,827 l28,-7" stroke-width="1.3"/>
<path d="M513.4,806 C513.4,803 520,803 520,806 L520,815 C520,817 513.4,817 513.4,815 Z"/>
<path d="M454.3,852 L460,850 L474,858 L474,900 L468,902 L454.3,893 Z M466,865 L466,898 M461,860 L461,890"/>
<circle cx="467" cy="870" r="1.5"/><circle cx="467" cy="892" r="1.5"/>
<path d="M539.6,842 L548,838 L548.8,872 L539.6,876"/>
<circle cx="543" cy="848" r="1.2"/><circle cx="543" cy="870" r="1.2"/>
<path d="M550,855 L566,855"/>
<path d="M404.4,861.7 L445,852.5 L446.4,902.4 L407,913 Z M406,866 L406,910"/>
<path d="M556.7,889 L573.7,882.7 L588,890.5 L571,895.8 Z M556.7,889 L556.7,907 L571,914 L588,908 L588,890.5 M571,895.8 L571,914"/>
<path d="M520,920 C518,922 519,925 522,926 L528,929 C531,930 533,927 531,924 L525,920 C523,919 521,919 520,920 Z M523,921 l-2,4 M526,923 l-2,4" stroke-width="1.8"/>
<circle cx="534" cy="930" r="5" stroke-width="2"/><circle cx="534" cy="930" r="2.3" stroke-width="1.4"/>
<path d="M429.4,800 L429.4,846 L390,856.4"/>
<!-- 88630C bracket -->
<path d="M571,763.5 L581.5,761 L583,761.5 L583,773 L581,774.5 L572,775 L571,774 Z M573,763 L573,757 L576.5,756.5 L581,759.5 L581.5,761 M574,759 l4,1 l1,2" stroke-width="1.7"/>
<path d="M579.5,767 a2,2 0 1 0 0,4" stroke-width="1.5"/>
<path d="M574,775 L574,789.5 L579,792.5 L586,791.5 L593,792 L596,791 L597,786 L599,785 M580.5,775 L580.5,789.5 L585.5,786 L592.5,789.5 M586,778 L588,778 L588,767 L591,765.5 L596,771 L596,785 M585,779.5 L585,786 M590,769.5 l0,3" stroke-width="1.7"/>
<path d="M597,772 L613,772"/>

<path d="M604,783 L644,804 L646,830" stroke-dasharray="5,3"/>
<path d="M646,830 L646,955 L665,958" stroke-dasharray="8,3,2,3"/>
<!-- 90099 screw -->
<path d="M653,953 C651,955 652,958 655,959 L664,964 C667,965 669,962 667,959 L658,954 C656,953 654,952 653,953 Z M656,954 l-2,4 M659,956 l-2,4 M662,958 l-2,4" stroke-width="2"/>
<circle cx="672" cy="966" r="6" stroke-width="2.2"/><circle cx="672" cy="966" r="2.8" stroke-width="1.5"/>
<path d="M643,963 L660,963"/>
<!-- 88899 strip -->
<path d="M347.5,1016.25 L507.5,971.25 L512.5,975 L350,1020 Z M346,1018 L346.25,1035 L512.5,987.5 L512.5,975 M350,1020 L350,1034"/>
<path d="M352,1017 L508,973" stroke-width="1"/>
<path d="M390,978 L390,1005"/>
<!-- 88561 cover -->
<path d="M501.75,1023.6 L667.5,976.5 L683.75,979.75 L685.4,984.6 L648,1033.4 L498.5,1083.75 L488.75,1080.5 M505,1035 L560,1019 M580,1013 L674,984.6"/>
<path d="M500,1023.6 L493.6,1082 M454.6,1030 L451.4,1038.25 L482.25,1067.5 M454.6,1030 L492,1048 L500,1023.6 M461,1067.5 L487,1075.6 L485.5,1066 L464.4,1066 Z M461,1067.5 L461,1073 L488,1082"/>
<ellipse cx="524.5" cy="1041.5" rx="4" ry="5" transform="rotate(30 524.5 1041.5)"/>
<ellipse cx="667.5" cy="1001" rx="4" ry="5" transform="rotate(30 667.5 1001)"/>
<path d="M563.5,1062 L563.5,1085" stroke-dasharray="5,3"/>
<path d="M674,1002.5 L687,1015.5" stroke-dasharray="3,3"/>
<path d="M693.5,1030 L693.5,1056"/>
<!-- 90159 screw -->
<path d="M248,989 C246,991 247,994 250,995 L259,1000 C262,1001 264,998 262,995 L253,990 C251,989 249,988 248,989 Z M251,990 l-2,4 M254,992 l-2,4 M257,994 l-2,4" stroke-width="2"/>
<circle cx="266" cy="1000.5" r="6" stroke-width="2.2"/><path d="M264,998 a3,3 0 1 0 4,4" stroke-width="1.5"/>
<path d="M235.75,995.4 L248,995.4" stroke-dasharray="3,2" stroke-width="1.4"/>
<path d="M225,940 L227,978 L248,991" stroke-dasharray="6,3"/>
<!-- 90119 bolt -->
<path d="M74.6,1019 C74.6,1018 84.4,1018 84.4,1019 L84.4,1036 L74.6,1036 Z M74.6,1022.5 l9.8,0 M74.6,1025.5 l9.8,0 M74.6,1028.5 l9.8,0 M74.6,1031.5 l9.8,0" stroke-width="2"/>
<path d="M70.1,1036.5 L88.9,1037.5 L88.5,1041.5 L70.5,1041.5 Z M72,1042 L74,1047.5 L86,1047.5 L86.6,1042 M79.9,1042 L79.9,1047.5" stroke-width="2"/>
<path d="M88.9,1038.5 L107,1038.5" stroke-dasharray="7,2,1,2"/>
<!-- 88536 bracket -->
<path d="M238,1100 L242,1095 L252,1093 L252,1087 L276,1069 L280,1070 L285,1060 L302,1057 L306,1060 L307,1098 L280,1106 L272,1102 L254,1110 L246,1108 Z M282,1073 L283,1106 M254,1094 L268,1102"/>
<path d="M307,1082 L320,1087 L320,1093 L308,1095"/>
<path d="M297,1067 C295,1069 296,1072 298,1073 L304,1078 C307,1079 309,1076 307,1073 L301,1068 C300,1067 298,1066 297,1067 Z M300,1069 l-2,3 M303,1071 l-2,3" stroke-width="1.6"/>
<path d="M249,1101 a2.5,1.5 0 1 0 5,0"/>
<path d="M312,1089 a2,1.5 0 1 0 4,0"/>
<path d="M208,1101.5 L236,1101.5" stroke-dasharray="20,3,1,3"/>
<path d="M292.5,1040 L292.5,1055" stroke-dasharray="6,3"/>
<path d="M327,1069 L327,1083 L313,1087" stroke-width="1.5"/>
<path d="M336,1059 L350,1059" stroke-dasharray="3,2"/>
<!-- 90179 nut -->
<circle cx="356.4" cy="1102" r="9"/><circle cx="358" cy="1104" r="6"/><path d="M354,1100 a3,3 0 1 0 6,2"/>
<path d="M366,1102 L384,1102"/>
</g>

</svg>
</body></html>
